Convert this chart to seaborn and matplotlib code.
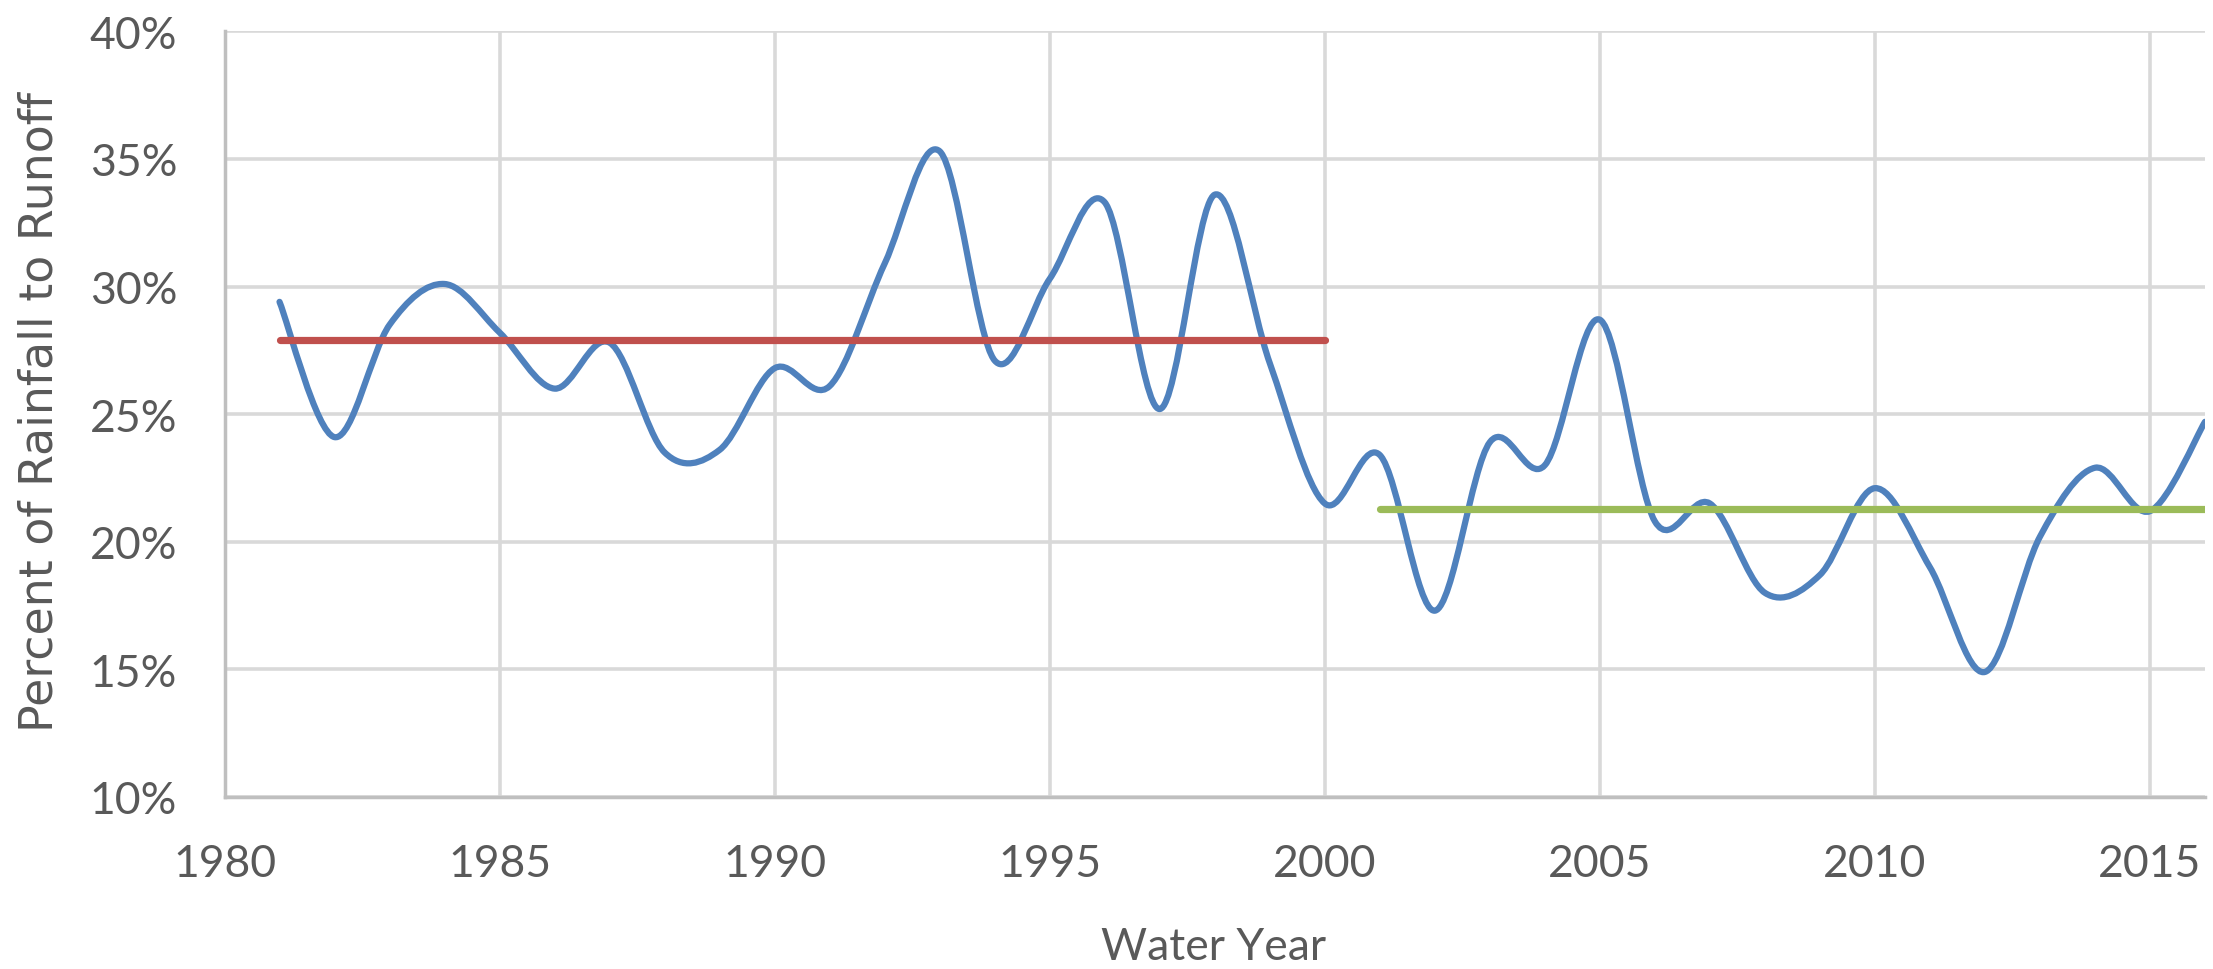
import numpy as np
import pandas as pd
import matplotlib
matplotlib.use("Agg")
import matplotlib.pyplot as plt
import seaborn as sns
from matplotlib.path import Path
from matplotlib.patches import PathPatch
from matplotlib.ticker import FuncFormatter, FixedLocator

# ---------------- data ----------------
years = list(range(1981, 2017))
runoff_pct = [29.4, 24.1, 28.5, 30.1, 28.2, 26.0, 27.8, 23.5, 23.6, 26.8,
              26.1, 30.9, 35.3, 27.1, 30.3, 33.3, 25.2, 33.6, 27.0, 21.5,
              23.4, 17.3, 23.9, 23.0, 28.7, 20.8, 21.5, 18.0, 18.7, 22.1,
              19.0, 14.9, 20.2, 22.9, 21.2, 24.7]
early_years = [1981, 2000]
early_mean = [27.9, 27.9]
late_years = [2001, 2016]
late_mean = [21.3, 21.3]
x_ticks = [1980, 1985, 1990, 1995, 2000, 2005, 2010, 2015]
y_ticks = [10, 15, 20, 25, 30, 35, 40]
x_label = "Water Year"
y_label = "Percent of Rainfall to Runoff"

BLUE = "#4F81BD"
RED = "#C0504D"
GREEN = "#9BBB59"
GRID = "#D9D9D9"
AXIS = "#BFBFBF"
TEXT = "#595959"

sns.set_theme(style="white")
tick_font = ["Lato", "DejaVu Sans"]
plt.rcParams["font.family"] = tick_font

W, H = 2213, 970
fig = plt.figure(figsize=(W / 100, H / 100), dpi=100)
ax = fig.add_axes([224.5 / W, 1 - 798 / H, (2205 - 224.5) / W, (798 - 32.3) / H])

# smoothed series (Excel-style Bezier through the data points)
x = np.asarray(years, float)
y = np.asarray(runoff_pct, float)
xp = np.r_[x[0], x, x[-1]]
yp = np.r_[y[0], y, y[-1]]
verts = [(x[0], y[0])]
codes = [Path.MOVETO]
for i in range(len(x) - 1):
    c1 = (x[i] + (xp[i + 2] - xp[i]) / 6, y[i] + (yp[i + 2] - yp[i]) / 6)
    c2 = (x[i + 1] - (xp[i + 3] - xp[i + 1]) / 6, y[i + 1] - (yp[i + 3] - yp[i + 1]) / 6)
    verts += [c1, c2, (x[i + 1], y[i + 1])]
    codes += [Path.CURVE4] * 3
ax.add_patch(PathPatch(Path(verts, codes), facecolor="none", edgecolor=BLUE,
                       lw=4.5, capstyle="round", joinstyle="round", zorder=3))

df_early = pd.DataFrame({"year": early_years, "pct": early_mean})
df_late = pd.DataFrame({"year": late_years, "pct": late_mean})
sns.lineplot(data=df_early, x="year", y="pct", ax=ax, color=RED, lw=5.2,
             solid_capstyle="round", zorder=4)
sns.lineplot(data=df_late, x="year", y="pct", ax=ax, color=GREEN, lw=5.2,
             solid_capstyle="round", zorder=4)

ax.set_xlim(1980, 2016)
ax.set_ylim(10, 40)
ax.xaxis.set_major_locator(FixedLocator(x_ticks))
ax.yaxis.set_major_locator(FixedLocator(y_ticks))
ax.yaxis.set_major_formatter(FuncFormatter(lambda v, p: f"{v:.0f}%"))

ax.grid(True, color=GRID, lw=2.6, zorder=0)
ax.set_axisbelow(True)
for s in ["top", "right"]:
    ax.spines[s].set_visible(False)
for s in ["left", "bottom"]:
    ax.spines[s].set_color(AXIS)
    ax.spines[s].set_linewidth(2.5)
    ax.spines[s].set_zorder(2)

ax.tick_params(axis="both", length=0, labelsize=32, labelcolor=TEXT)
ax.tick_params(axis="x", pad=33)
ax.tick_params(axis="y", pad=34)
ax.set_xlabel("")
ax.set_ylabel("")

fig.text(1214 / W, 1 - 960 / H, x_label, ha="center", va="baseline",
         fontsize=32, color=TEXT, family=tick_font)
fig.text(40 / W, 1 - 412 / H, y_label, ha="center", va="center", rotation=90,
         fontsize=33, color=TEXT, family=["DejaVu Sans"])

fig.savefig("out.png", dpi=100, facecolor="white")
